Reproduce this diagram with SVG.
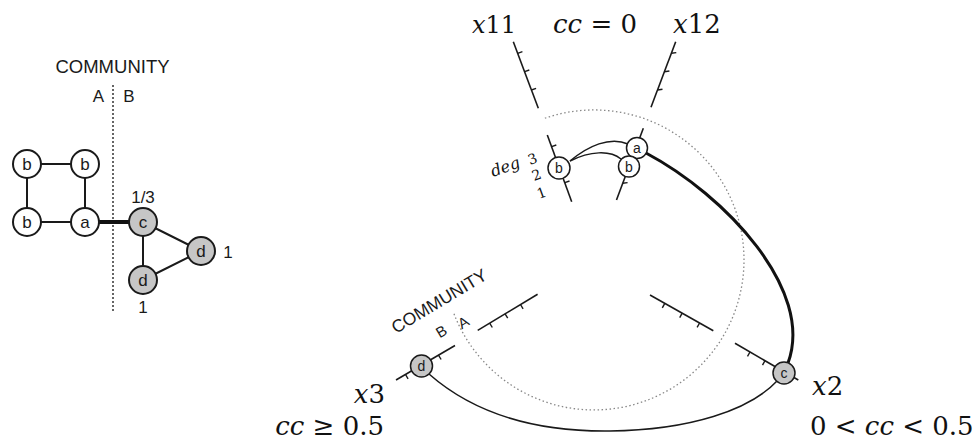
<svg xmlns="http://www.w3.org/2000/svg" width="980" height="442" viewBox="0 0 980 442">
<style>
.edge{stroke:#1a1a1a;stroke-width:2;fill:none}
.thick{stroke:#111;stroke-width:4;fill:none}
.node{stroke:#1a1a1a;stroke-width:2;fill:#fff}
.rnode{stroke:#1a1a1a;stroke-width:1.5;fill:#fff}
.gray{fill:#c6c6c6}
.lbl{font-family:"Liberation Sans",Arial,sans-serif;font-size:17px;fill:#1a1a1a;text-anchor:middle}
.rl{font-size:14px}
.serif{font-family:"DejaVu Serif",serif;fill:#111;font-size:26px}
.it{font-style:italic}
.axis{stroke:#1a1a1a;stroke-width:1.6;fill:none}
.tick{stroke:#1a1a1a;stroke-width:1.4}
.thin{stroke:#1a1a1a;stroke-width:1.5;fill:none}
.arcthick{stroke:#111;stroke-width:3;fill:none}
.dotc{stroke:#888;stroke-width:1.3;stroke-dasharray:1.5 2.5;fill:none}
.dotl{stroke:#333;stroke-width:1.5;stroke-dasharray:2 2;fill:none}
</style>

<!-- left panel -->
<g id="left-community">
  <text x="112.5" y="73" class="lbl" style="font-size:18.5px">COMMUNITY</text>
  <text x="98.5" y="102" class="lbl">A</text>
  <text x="129" y="102" class="lbl">B</text>
  <line x1="113" y1="85" x2="113" y2="313" class="dotl"/>
</g>
<g id="left-connectors">
  <line x1="27" y1="164" x2="85" y2="164" class="edge"/>
  <line x1="27" y1="164" x2="27" y2="222" class="edge"/>
  <line x1="85" y1="164" x2="85" y2="222" class="edge"/>
  <line x1="27" y1="222" x2="85" y2="222" class="edge"/>
  <line x1="85" y1="222" x2="143" y2="222" class="thick"/>
  <line x1="143" y1="222" x2="143" y2="280" class="edge"/>
  <line x1="143" y1="222" x2="201" y2="251" class="edge"/>
  <line x1="201" y1="251" x2="143" y2="280" class="edge"/>
</g>
<g id="L-b1"><circle cx="27" cy="164" r="14" class="node"/><text x="27" y="170" class="lbl">b</text></g>
<g id="L-b2"><circle cx="85" cy="164" r="14" class="node"/><text x="85" y="170" class="lbl">b</text></g>
<g id="L-b3"><circle cx="27" cy="222" r="14" class="node"/><text x="27" y="228" class="lbl">b</text></g>
<g id="L-a"><circle cx="85" cy="222" r="14" class="node"/><text x="85" y="228" class="lbl">a</text></g>
<g id="L-c"><circle cx="143" cy="222" r="14" class="node gray"/><text x="143" y="228" class="lbl">c</text><text x="143" y="203" class="lbl">1/3</text></g>
<g id="L-d1"><circle cx="143" cy="280" r="14" class="node gray"/><text x="143" y="286" class="lbl">d</text><text x="143" y="313" class="lbl">1</text></g>
<g id="L-d2"><circle cx="201" cy="251" r="14" class="node gray"/><text x="201" y="257" class="lbl">d</text><text x="228" y="258" class="lbl">1</text></g>

<!-- right panel: hive plot -->
<g id="community-circle">
  <path d="M 454,313.8 A 150 150 0 1 0 542.7,119" class="dotc"/>
</g>
<g id="axes">
  <!-- x11 -->
  <line x1="513.3" y1="41.7" x2="538.3" y2="108.3" class="axis"/>
  <line x1="517.7" y1="53.3" x2="522.4" y2="51.6" class="tick"/>
  <line x1="524.6" y1="71.7" x2="529.3" y2="70" class="tick"/>
  <line x1="531.4" y1="90" x2="536.1" y2="88.3" class="tick"/>
  <line x1="547.3" y1="135" x2="571.7" y2="201.7" class="axis"/>
  <line x1="551.6" y1="146.7" x2="556.3" y2="145" class="tick"/>
  <line x1="564.8" y1="182.7" x2="569.5" y2="181" class="tick"/>
  <!-- x12 -->
  <line x1="675.7" y1="41.7" x2="651" y2="107.3" class="axis"/>
  <line x1="671.3" y1="53.3" x2="676.3" y2="52.6" class="tick"/>
  <line x1="664.4" y1="71.7" x2="669.4" y2="71" class="tick"/>
  <line x1="657.5" y1="90" x2="662.5" y2="89.3" class="tick"/>
  <line x1="643.3" y1="128.3" x2="616.5" y2="200" class="axis"/>
  <line x1="622.6" y1="183.3" x2="627.6" y2="182.6" class="tick"/>
  <!-- x3 -->
  <line x1="537.6" y1="294.2" x2="477.7" y2="330.4" class="axis"/>
  <line x1="520.5" y1="304.5" x2="523.1" y2="308.8" class="tick"/>
  <line x1="505.1" y1="313.9" x2="507.7" y2="318.2" class="tick"/>
  <line x1="489.7" y1="323.2" x2="492.3" y2="327.5" class="tick"/>
  <line x1="455" y1="345.5" x2="396" y2="380" class="axis"/>
  <line x1="438.5" y1="355.2" x2="441.1" y2="359.5" class="tick"/>
  <line x1="405.5" y1="374.5" x2="408.1" y2="378.8" class="tick"/>
  <!-- x2 -->
  <line x1="650" y1="295" x2="713.3" y2="330.7" class="axis"/>
  <line x1="664.8" y1="303.4" x2="662.3" y2="307.8" class="tick"/>
  <line x1="682.2" y1="313.2" x2="679.7" y2="317.6" class="tick"/>
  <line x1="699.6" y1="323" x2="697.1" y2="327.4" class="tick"/>
  <line x1="735" y1="343.3" x2="798.3" y2="380" class="axis"/>
  <line x1="750" y1="352" x2="747.5" y2="356.4" class="tick"/>
  <line x1="765" y1="360.7" x2="762.5" y2="365.1" class="tick"/>
</g>
<g id="connectors">
  <path d="M 570,161 C 588,146 610,136 628,144" class="thin"/>
  <path d="M 570,161 C 590,151 610,150 621,159" class="thin"/>
  <path d="M 646,153 C 725,195 815,290 788,363" class="arcthick"/>
  <path d="M 429,374 C 470,410 530,432 610,431 C 690,430 750,410 777,381" class="thin"/>
</g>
<g id="R-b11"><circle cx="559" cy="168" r="11" class="rnode"/><text x="559" y="173" class="lbl rl">b</text></g>
<g id="R-a"><circle cx="637" cy="148" r="10.5" class="rnode"/><text x="637" y="153" class="lbl rl">a</text></g>
<g id="R-b12"><circle cx="629" cy="166.5" r="10.5" class="rnode"/><text x="629" y="171.5" class="lbl rl">b</text></g>
<g id="R-d"><circle cx="421.5" cy="366" r="11" class="rnode gray"/><text x="421.5" y="371" class="lbl rl">d</text></g>
<g id="R-c"><circle cx="784" cy="373" r="11" class="rnode gray"/><text x="784" y="378" class="lbl rl">c</text></g>

<g id="labels">
  <text x="472" y="33" class="serif" style="font-size:24px"><tspan class="it">x</tspan>11</text>
  <text x="553" y="33" class="serif"><tspan class="it">cc</tspan> = 0</text>
  <text x="673" y="33" class="serif"><tspan class="it">x</tspan>12</text>
  <text x="385" y="403" class="serif" text-anchor="end"><tspan class="it">x</tspan>3</text>
  <text x="384" y="435" class="serif" text-anchor="end"><tspan class="it">cc</tspan> ≥ 0.5</text>
  <text x="812" y="395" class="serif"><tspan class="it">x</tspan>2</text>
  <text x="810" y="435" class="serif">0 &lt; <tspan class="it">cc</tspan> &lt; 0.5</text>
  <text transform="translate(493,177) rotate(-20)" class="serif it" style="font-size:16px">deg</text>
  <text transform="translate(530,165) rotate(-20)" class="serif" style="font-size:14px">3</text>
  <text transform="translate(534,181) rotate(-20)" class="serif" style="font-size:14px">2</text>
  <text transform="translate(539,199) rotate(-20)" class="serif" style="font-size:14px">1</text>
  <text transform="translate(396,334) rotate(-31)" class="lbl" style="text-anchor:start;font-size:17.5px">COMMUNITY</text>
  <text transform="translate(444,336) rotate(-31)" class="lbl" style="font-size:15px">B</text>
  <text transform="translate(466,327) rotate(-31)" class="lbl" style="font-size:15px">A</text>
</g>
</svg>
